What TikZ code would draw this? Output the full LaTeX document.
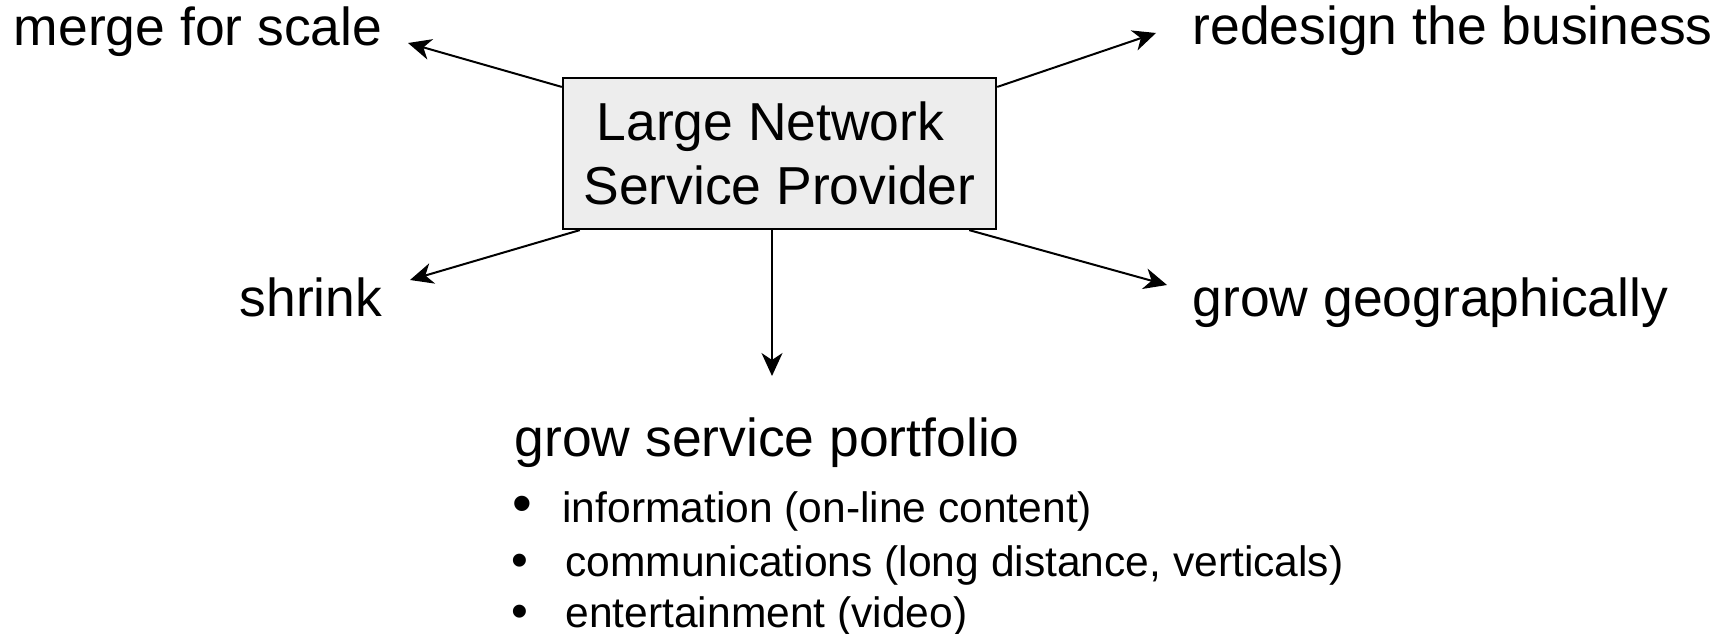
\documentclass[tikz,border=0pt]{standalone}
\usepackage{fontspec}
\setmainfont{Liberation Sans}
\usepackage{tikz}
\usetikzlibrary{arrows.meta}

\newcommand{\dotmark}[2]{\raisebox{#2}{\fontsize{#1}{#1}\selectfont\textbullet}}

\begin{document}
\begin{tikzpicture}[x=0.01cm,y=-0.01cm,
  big/.style={font=\fontsize{15.2}{18.2}\selectfont, inner sep=0pt},
  small/.style={font=\fontsize{12.1}{15}\selectfont, inner sep=0pt, anchor=base west},
  arr/.style={-{Stealth[length=0.23cm,width=0.21cm,inset=0.07cm]}, line width=0.02cm}]
\useasboundingbox (0,0) rectangle (1733,634);
%% the provider box in the middle
\node[draw, line width=0.022cm, fill=black!7, minimum width=4.33cm, minimum height=1.51cm,
  align=center, big, text depth=0cm] (lnsp) at (779.5,153.5) {Large Network\hspace*{0.18cm}\\Service Provider};
%% four options round the box
\node[big, anchor=base east] (merge) at (383,46) {merge for scale};
\node[big, anchor=base east] (shrink) at (383,317) {shrink};
\node[big, anchor=base west] (redesign) at (1192,45) {redesign the business};
\node[big, anchor=base west] (geo) at (1192,317) {grow geographically};
%% option below with its list
\node[big, anchor=base west] (portfolio) at (514,457) {grow service portfolio};
\node[small] (info) at (512,522) {\dotmark{16}{0cm}\hspace{0.30cm}information (on-line content)};
\node[small] (comm) at (511,577) {\dotmark{13.6}{0cm}\hspace{0.37cm}communications (long distance, verticals)};
\node[small] (ent) at (511,627) {\dotmark{13.6}{0cm}\hspace{0.37cm}entertainment (video)};
%% arrow tips
\coordinate (tmerge) at (408,43);
\coordinate (tshrink) at (410,280);
\coordinate (tredesign) at (1156,33);
\coordinate (tgeo) at (1167,285);
\coordinate (tportfolio) at (772,376);
%% arrows out of the box
\draw[arr] (lnsp.163.2) -- (tmerge);
\draw[arr] (lnsp.201.5) -- (tshrink);
\draw[arr] (lnsp.17.6) -- (tredesign);
\draw[arr] (lnsp.338.5) -- (tgeo);
\draw[arr, line width=0.016cm] (lnsp.south -| tportfolio) -- (tportfolio);

\end{tikzpicture}
\end{document}
